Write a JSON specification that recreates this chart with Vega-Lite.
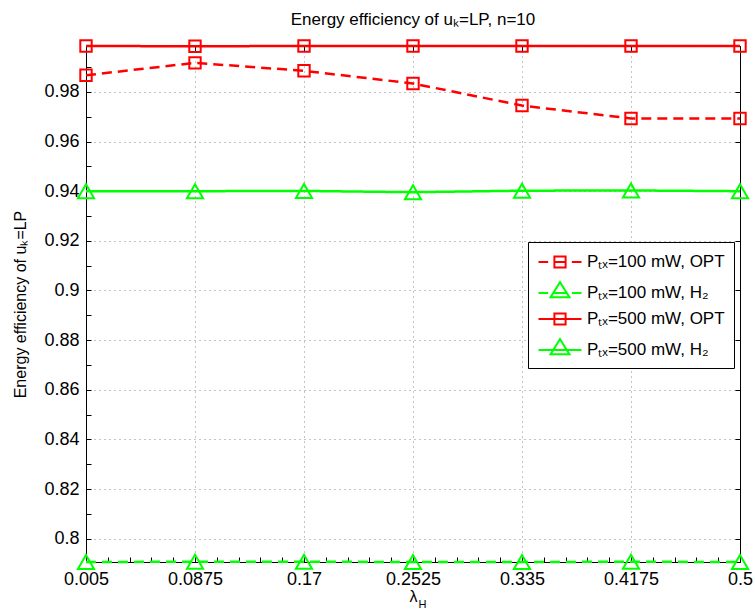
{
  "$schema": "https://vega.github.io/schema/vega-lite/v6.json",
  "width": 654,
  "height": 516,
  "autosize": "none",
  "padding": {"left": 86, "top": 46, "right": 15, "bottom": 50},
  "background": "white",
  "title": {"text": "Energy efficiency of uₖ=LP, n=10", "fontSize": 17, "font": "Liberation Sans", "fontWeight": "normal", "color": "black", "anchor": "middle", "offset": 7},
  "data": {"values": [
    {"x": 0.005, "y": 0.9867, "s": "Pₜₓ=100 mW, OPT", "p": "100 mW", "m": "OPT"},
    {"x": 0.0875, "y": 0.9917, "s": "Pₜₓ=100 mW, OPT", "p": "100 mW", "m": "OPT"},
    {"x": 0.17, "y": 0.9885, "s": "Pₜₓ=100 mW, OPT", "p": "100 mW", "m": "OPT"},
    {"x": 0.2525, "y": 0.9834, "s": "Pₜₓ=100 mW, OPT", "p": "100 mW", "m": "OPT"},
    {"x": 0.335, "y": 0.9745, "s": "Pₜₓ=100 mW, OPT", "p": "100 mW", "m": "OPT"},
    {"x": 0.4175, "y": 0.9693, "s": "Pₜₓ=100 mW, OPT", "p": "100 mW", "m": "OPT"},
    {"x": 0.5, "y": 0.9693, "s": "Pₜₓ=100 mW, OPT", "p": "100 mW", "m": "OPT"},
    {"x": 0.005, "y": 0.7906, "s": "Pₜₓ=100 mW, H₂", "p": "100 mW", "m": "H2"},
    {"x": 0.0875, "y": 0.7907, "s": "Pₜₓ=100 mW, H₂", "p": "100 mW", "m": "H2"},
    {"x": 0.17, "y": 0.7907, "s": "Pₜₓ=100 mW, H₂", "p": "100 mW", "m": "H2"},
    {"x": 0.2525, "y": 0.7906, "s": "Pₜₓ=100 mW, H₂", "p": "100 mW", "m": "H2"},
    {"x": 0.335, "y": 0.7906, "s": "Pₜₓ=100 mW, H₂", "p": "100 mW", "m": "H2"},
    {"x": 0.4175, "y": 0.7907, "s": "Pₜₓ=100 mW, H₂", "p": "100 mW", "m": "H2"},
    {"x": 0.5, "y": 0.7906, "s": "Pₜₓ=100 mW, H₂", "p": "100 mW", "m": "H2"},
    {"x": 0.005, "y": 0.9985, "s": "Pₜₓ=500 mW, OPT", "p": "500 mW", "m": "OPT"},
    {"x": 0.0875, "y": 0.9984, "s": "Pₜₓ=500 mW, OPT", "p": "500 mW", "m": "OPT"},
    {"x": 0.17, "y": 0.9985, "s": "Pₜₓ=500 mW, OPT", "p": "500 mW", "m": "OPT"},
    {"x": 0.2525, "y": 0.9985, "s": "Pₜₓ=500 mW, OPT", "p": "500 mW", "m": "OPT"},
    {"x": 0.335, "y": 0.9985, "s": "Pₜₓ=500 mW, OPT", "p": "500 mW", "m": "OPT"},
    {"x": 0.4175, "y": 0.9985, "s": "Pₜₓ=500 mW, OPT", "p": "500 mW", "m": "OPT"},
    {"x": 0.5, "y": 0.9985, "s": "Pₜₓ=500 mW, OPT", "p": "500 mW", "m": "OPT"},
    {"x": 0.005, "y": 0.9400, "s": "Pₜₓ=500 mW, H₂", "p": "500 mW", "m": "H2"},
    {"x": 0.0875, "y": 0.9400, "s": "Pₜₓ=500 mW, H₂", "p": "500 mW", "m": "H2"},
    {"x": 0.17, "y": 0.9401, "s": "Pₜₓ=500 mW, H₂", "p": "500 mW", "m": "H2"},
    {"x": 0.2525, "y": 0.9396, "s": "Pₜₓ=500 mW, H₂", "p": "500 mW", "m": "H2"},
    {"x": 0.335, "y": 0.9402, "s": "Pₜₓ=500 mW, H₂", "p": "500 mW", "m": "H2"},
    {"x": 0.4175, "y": 0.9403, "s": "Pₜₓ=500 mW, H₂", "p": "500 mW", "m": "H2"},
    {"x": 0.5, "y": 0.9400, "s": "Pₜₓ=500 mW, H₂", "p": "500 mW", "m": "H2"}
  ]},
  "layer": [
    {
      "mark": {"type": "line", "strokeWidth": 2.5},
      "encoding": {
        "x": {"field": "x", "type": "quantitative",
          "scale": {"domain": [0.005, 0.5], "nice": false, "zero": false},
          "axis": {"orient": "bottom", "title": "λ", "grid": false,
            "values": [0.005, 0.0215, 0.038, 0.0545, 0.071, 0.0875, 0.104, 0.1205, 0.137, 0.1535, 0.17, 0.1865, 0.203, 0.2195, 0.236, 0.2525, 0.269, 0.2855, 0.302, 0.3185, 0.335, 0.3515, 0.368, 0.3845, 0.401, 0.4175, 0.434, 0.4505, 0.467, 0.4835, 0.5],
            "labelExpr": "(round((datum.value-0.005)/0.0165) % 5 == 0) ? format(datum.value, '.4~f') : ''",
            "tickSize": -5, "labelPadding": 13, "titlePadding": 0, "labelOverlap": false, "labelFlush": false, "labelBound": false}},
        "y": {"field": "y", "type": "quantitative",
          "scale": {"domain": [0.7906, 0.9985], "nice": false, "zero": false},
          "axis": {"orient": "left", "title": "Energy efficiency of uₖ=LP", "grid": false,
            "values": [0.8, 0.81, 0.82, 0.83, 0.84, 0.85, 0.86, 0.87, 0.88, 0.89, 0.9, 0.91, 0.92, 0.93, 0.94, 0.95, 0.96, 0.97, 0.98, 0.99],
            "labelExpr": "(round(datum.value*100) % 2 == 0) ? format(datum.value, '.2~f') : ''",
            "tickSize": -5, "labelPadding": 12, "titlePadding": 15, "labelOverlap": false, "labelFlush": false, "labelBound": false}},
        "color": {"field": "s", "type": "nominal",
          "scale": {"domain": ["Pₜₓ=100 mW, OPT", "Pₜₓ=100 mW, H₂", "Pₜₓ=500 mW, OPT", "Pₜₓ=500 mW, H₂"], "range": ["#ff0000", "#00ff00", "#ff0000", "#00ff00"]},
          "legend": {"orient": "none", "legendX": 442, "legendY": 196, "title": null,
            "strokeColor": "black", "fillColor": "white", "padding": 9,
            "labelFontSize": 17, "labelFont": "Liberation Sans", "labelColor": "black", "labelOffset": 16,
            "symbolSize": 400, "symbolOffset": 12, "symbolStrokeWidth": 2, "rowPadding": 6,
            "encode": {"symbols": {"update": {
              "shape": {"signal": "datum.index == 0 ? 'M-2.15,0H-1.18M1.18,0H2.15M-0.56,-0.56H0.56V0.56H-0.56ZM-0.56,0H0.56' : datum.index == 1 ? 'M-2.15,0H-1.18M1.18,0H2.15M0,-1.08L0.95,0.43L-0.95,0.43ZM-0.65,0H0.65' : datum.index == 2 ? 'M-2.15,0H2.15M-0.56,-0.56H0.56V0.56H-0.56Z' : 'M-2.15,0H2.15M0,-1.08L0.95,0.43L-0.95,0.43Z'"},
              "fill": {"value": "transparent"},
              "strokeDash": {"value": [1, 0]},
              "strokeWidth": {"value": 2},
              "size": {"value": 400}
            }}}}},
        "strokeDash": {"field": "p", "type": "nominal", "legend": null,
          "scale": {"domain": ["100 mW", "500 mW"], "range": [[10, 6], [1, 0]]}}
      }
    },
    {
      "mark": {"type": "point", "filled": false, "strokeWidth": 2, "opacity": 1},
      "encoding": {
        "x": {"field": "x", "type": "quantitative",
          "axis": {"orient": "top", "title": "H", "titleFontSize": 11, "titleX": 336, "titleY": 561, "titleBaseline": "alphabetic", "titleAlign": "center",
            "values": [0.005, 0.0875, 0.17, 0.2525, 0.335, 0.4175, 0.5], "labels": false, "grid": true, "tickSize": -5}},
        "y": {"field": "y", "type": "quantitative",
          "axis": {"orient": "right", "title": null,
            "values": [0.8, 0.82, 0.84, 0.86, 0.88, 0.9, 0.92, 0.94, 0.96, 0.98], "labels": false, "grid": true, "tickSize": -5}},
        "color": {"field": "s", "type": "nominal"},
        "shape": {"field": "m", "type": "nominal", "legend": null,
          "scale": {"domain": ["OPT", "H2"], "range": ["square", "triangle-up"]}},
        "size": {"field": "m", "type": "nominal", "legend": null,
          "scale": {"domain": ["OPT", "H2"], "range": [130, 260]}}
      }
    }
  ],
  "resolve": {"axis": {"x": "independent", "y": "independent"}},
  "config": {
    "view": {"stroke": null},
    "font": "Liberation Sans",
    "axis": {"domainColor": "black", "domainWidth": 1, "tickColor": "black", "tickWidth": 1,
      "labelFont": "Liberation Sans", "labelFontSize": 18, "labelColor": "black",
      "titleFont": "Liberation Sans", "titleFontSize": 16, "titleFontWeight": "normal", "titleColor": "black",
      "gridColor": "#888888", "gridDash": [1, 4], "gridWidth": 1, "gridOpacity": 1}
  }
}
